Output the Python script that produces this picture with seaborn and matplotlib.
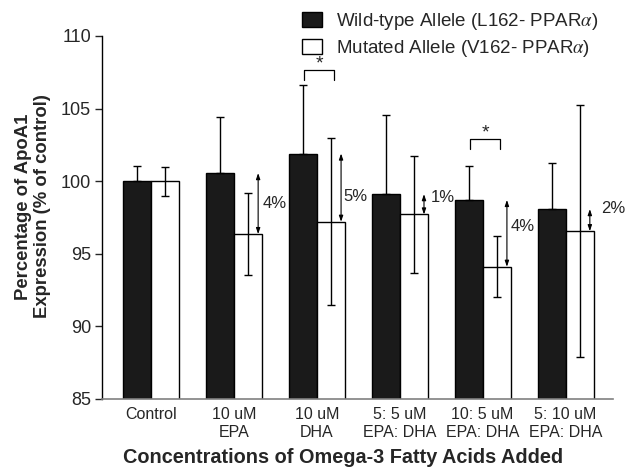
import matplotlib
matplotlib.use("Agg")
import matplotlib.pyplot as plt
import numpy as np
import pandas as pd
import seaborn as sns

treatments = ["Control", "10 uM\nEPA", "10 uM\nDHA", "5: 5 uM\nEPA: DHA",
              "10: 5 uM\nEPA: DHA", "5: 10 uM\nEPA: DHA"]
alleles = ["Wild-type Allele (L162- PPAR$\\alpha$)",
           "Mutated Allele (V162- PPAR$\\alpha$)"]
wild_mean = [100.0, 100.55, 101.9, 99.1, 98.7, 98.07]
wild_err = [1.05, 3.85, 4.75, 5.45, 2.35, 3.2]
mut_mean = [100.0, 96.35, 97.2, 97.7, 94.1, 96.55]
mut_err = [1.0, 2.85, 5.75, 4.0, 2.1, 8.7]
diff_labels = [None, "4%", "5%", "1%", "4%", "2%"]
signif_groups = [2, 4]

sns.set_style("white")
plt.rcParams["font.family"] = ["Liberation Sans", "DejaVu Sans"]
plt.rcParams["mathtext.fontset"] = "stix"

df = pd.DataFrame({
    "treatment": treatments * 2,
    "allele": [alleles[0]] * 6 + [alleles[1]] * 6,
    "value": wild_mean + mut_mean,
})

fig = plt.figure(figsize=(6.26, 4.67), dpi=100)
ax = fig.add_axes([0.163, 0.146, 0.816, 0.777])

sns.barplot(data=df, x="treatment", y="value", hue="allele",
            palette=["#1a1a1a", "white"], edgecolor="black", linewidth=1.0,
            width=0.675, gap=0, errorbar=None, ax=ax)

# error bars (wild-type only shows the upper half)
bars_w = ax.containers[0]
bars_m = ax.containers[1]
xw = [p.get_x() + p.get_width() / 2 for p in bars_w]
xm = [p.get_x() + p.get_width() / 2 for p in bars_m]
ax.errorbar(xw, wild_mean, yerr=[[0] * len(wild_err), wild_err], fmt="none",
            ecolor="black", elinewidth=1.0, capsize=3.2, capthick=1.0, zorder=5)
ax.errorbar(xm, mut_mean, yerr=mut_err, fmt="none", ecolor="black",
            elinewidth=1.0, capsize=3.2, capthick=1.0, zorder=5)

# difference arrows
text_dy = [0, 0.0, -0.6, 0.5, 0.5, 0.8]
text_dx = [0, 0.06, 0.03, 0.08, 0.04, 0.14]
for i, lab in enumerate(diff_labels):
    if lab is None:
        continue
    p = bars_m[i]
    xa = p.get_x() + p.get_width() - 0.045
    ax.annotate("", xy=(xa, mut_mean[i]), xytext=(xa, wild_mean[i]),
                arrowprops=dict(arrowstyle="<|-|>,head_length=0.35,head_width=0.12",
                                color="black", lw=0.8, shrinkA=0, shrinkB=0),
                zorder=6)
    ym = (wild_mean[i] + mut_mean[i]) / 2 + text_dy[i]
    ax.text(xa + text_dx[i], ym, lab, ha="left", va="center", fontsize=12)

# significance brackets
bracket_top = {2: 107.65, 4: 102.9}
for i in signif_groups:
    x0, x1 = xw[i] + 0.02, xm[i] + 0.04
    yt = bracket_top[i]
    ax.plot([x0, x0, x1, x1], [yt - 0.7, yt, yt, yt - 0.7], color="black", lw=0.9)
    ax.text((x0 + x1) / 2, yt - 0.15, "*", ha="center", va="bottom", fontsize=14)

ax.set_ylim(85, 110)
ax.set_yticks(np.arange(85, 111, 5))
ax.set_xlim(-0.59, 5.57)
ax.tick_params(axis="y", direction="out", length=5, width=1, labelsize=13, left=True, pad=3)
ax.tick_params(axis="x", length=0, labelsize=11.5, pad=6)
sns.despine(ax=ax)
ax.spines["left"].set_color("black")
ax.spines["left"].set_linewidth(1.0)
ax.spines["bottom"].set_color("#808080")
ax.spines["bottom"].set_linewidth(1.2)

ax.set_xlabel("Concentrations of Omega-3 Fatty Acids Added",
              fontsize=14.3, fontweight="bold")
ax.xaxis.set_label_coords(0.472, -0.135)
ax.set_ylabel("Percentage of ApoA1\nExpression (% of control)",
              fontsize=13.3, fontweight="bold")
ax.yaxis.set_label_coords(-0.099, 0.53)

ax.get_legend().remove()
handles = [plt.Rectangle((0, 0), 1, 1, facecolor="#1a1a1a", edgecolor="black"),
           plt.Rectangle((0, 0), 1, 1, facecolor="white", edgecolor="black")]
fig.legend(handles, alleles, loc="upper left", bbox_to_anchor=(0.462, 1.005),
           frameon=False, fontsize=13.5, handlelength=1.07, handleheight=0.85,
           handletextpad=0.75, labelspacing=0.35, borderaxespad=0.3)

fig.savefig("out.png", dpi=100)
